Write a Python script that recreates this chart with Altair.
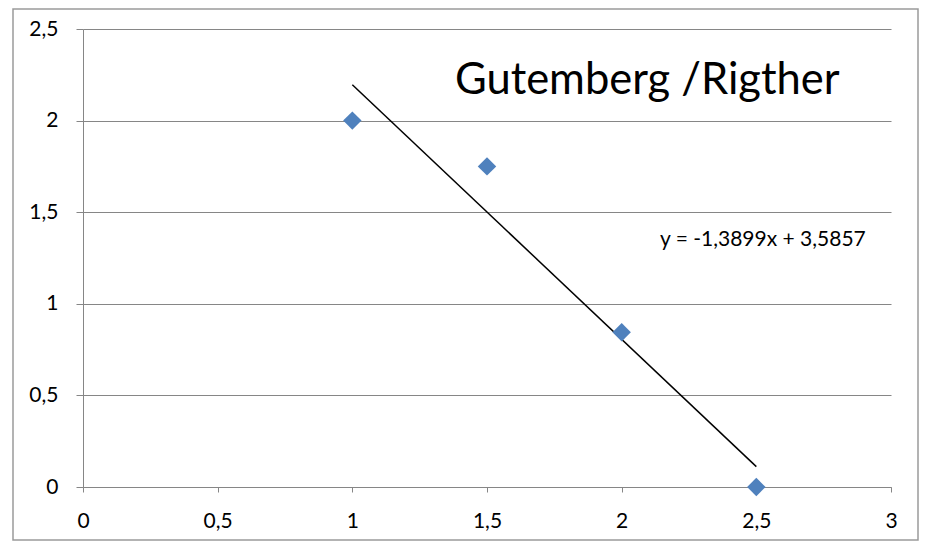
import altair as alt
import pandas as pd

# Data
x_vals = [1.0, 1.5, 2.0, 2.5]
y_vals = [2.0, 1.75, 0.845, 0.0]

trend_x = [1.0, 2.5]
trend_y = [2.196, 0.111]

chart_title = "Gutemberg /Rigther"
equation = "y = -1,3899x + 3,5857"

x_ticks = [0, 0.5, 1, 1.5, 2, 2.5, 3]
y_ticks = [0, 0.5, 1, 1.5, 2, 2.5]

pts = pd.DataFrame({"x": x_vals, "y": y_vals})
trend = pd.DataFrame({"x": trend_x, "y": trend_y})
one = pd.DataFrame({"a": [0]})

FONT = "Lato"
GREY = "#868686"

xscale = alt.Scale(domain=[0, 3], nice=False, zero=False)
yscale = alt.Scale(domain=[0, 2.5], nice=False, zero=False)

label_expr = "replace(format(datum.value, ''), '.', ',')"

x_axis = alt.Axis(
    values=x_ticks, title=None, grid=False, domainColor=GREY, tickColor=GREY,
    tickSize=5, labelPadding=18, labelFontSize=21, labelFont=FONT,
    labelColor="black", labelExpr=label_expr, labelFlush=False,
)
y_axis = alt.Axis(
    values=y_ticks, title=None, grid=True, gridColor=GREY, gridWidth=1.2,
    domainColor=GREY, tickColor=GREY, tickSize=7, labelPadding=18,
    labelFontSize=21, labelFont=FONT, labelColor="black",
    labelExpr=label_expr,
)

frame = alt.Chart(one).mark_rect(
    fill=None, stroke="#9a9a9a", strokeWidth=1.5
).encode(
    x=alt.value(-70), x2=alt.value(835), y=alt.value(-20), y2=alt.value(511)
)

points = alt.Chart(pts).mark_point(
    shape="diamond", filled=True, color="#4F81BD", size=340, opacity=1
).encode(
    x=alt.X("x:Q", scale=xscale, axis=x_axis),
    y=alt.Y("y:Q", scale=yscale, axis=y_axis),
)

line = alt.Chart(trend).mark_line(color="black", strokeWidth=1.5).encode(
    x=alt.X("x:Q", scale=xscale),
    y=alt.Y("y:Q", scale=yscale),
)

title_txt = alt.Chart(one).mark_text(
    text=chart_title, font=FONT, fontSize=43.5, align="left",
    baseline="alphabetic", color="black",
).encode(x=alt.value(372), y=alt.value(65))

eq_txt = alt.Chart(one).mark_text(
    text=equation, font=FONT, fontSize=21, align="left",
    baseline="alphabetic", color="black",
).encode(x=alt.value(577), y=alt.value(217))

chart = alt.layer(frame, line, points, title_txt, eq_txt).properties(
    width=808, height=458,
    autosize=alt.AutoSizeParams(type="none"),
    padding={"left": 75, "top": 21, "right": 29, "bottom": 55},
).configure_view(stroke=None)

chart.save("out.html", embed_options={"renderer": "svg", "actions": False})
